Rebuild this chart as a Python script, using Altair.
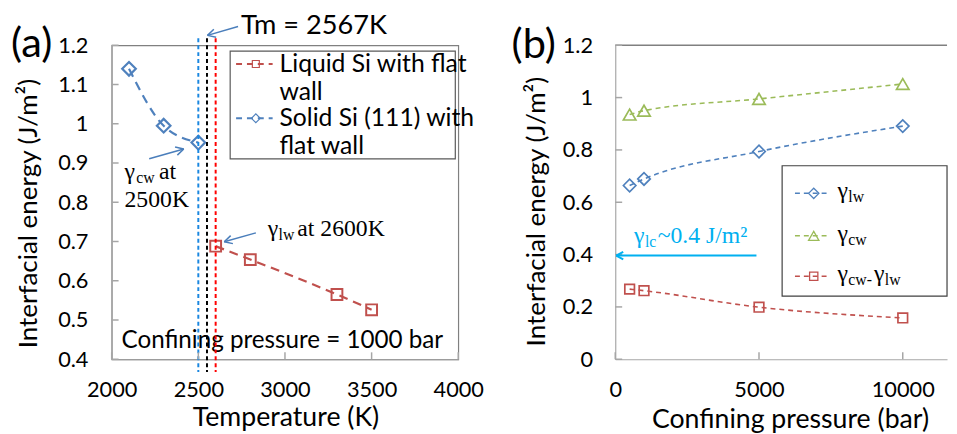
import math
import altair as alt
import pandas as pd

# ---------------- data ----------------
temp_solid = [2100, 2300, 2500]
gamma_solid = [1.140, 0.995, 0.952]
temp_liquid = [2600, 2800, 3300, 3500]
gamma_liquid = [0.688, 0.654, 0.565, 0.526]
vline_temps = [2500, 2550, 2600]

pressure = [500, 1000, 5000, 10000]
gamma_lw = [0.664, 0.689, 0.794, 0.891]
gamma_cw = [0.935, 0.950, 0.995, 1.052]
gamma_diff = [0.268, 0.262, 0.199, 0.158]

xticks_a = [2000, 2500, 3000, 3500, 4000]
yticks_a = [0.4, 0.5, 0.6, 0.7, 0.8, 0.9, 1.0, 1.1, 1.2]
xticks_b = [0, 5000, 10000]
yticks_b = [0, 0.2, 0.4, 0.6, 0.8, 1.0, 1.2]

# ---------------- style ----------------
SANS = "Lato"
SERIF = "Liberation Serif"
BLUE = "#4f81bd"
RED = "#c0504d"
GREEN = "#9bbb59"
CYAN = "#00b0f0"
ARROW = "#4a7ebb"
FRAME_DARK = "#808080"
FRAME_LIGHT = "#a6a6a6"

A_W, A_H = 351, 318
B_W, B_H = 336, 318

LBL = 22
XT = 27
YT = 26.3

dummy = pd.DataFrame({"d": [0]})


def txt(s, x, y, size, font=SANS, color="black", baseline="middle", align="left"):
    return alt.Chart(dummy).mark_text(
        text=s, fontSize=size, font=font, color=color, baseline=baseline, align=align
    ).encode(x=alt.value(x), y=alt.value(y))


def seg(x1, y1, x2, y2, color, w=1.5, dash=None):
    kw = dict(color=color, strokeWidth=w)
    if dash:
        kw["strokeDash"] = dash
    return alt.Chart(dummy).mark_rule(**kw).encode(
        x=alt.value(x1), y=alt.value(y1), x2=alt.value(x2), y2=alt.value(y2)
    )


def arrow(x1, y1, x2, y2, color, w=1.5, head=9, ang=28):
    th = math.atan2(y2 - y1, x2 - x1)
    out = [seg(x1, y1, x2, y2, color, w)]
    for s in (-1, 1):
        a = th + math.pi - s * math.radians(ang)
        out.append(seg(x2, y2, x2 + head * math.cos(a), y2 + head * math.sin(a), color, w))
    return out


def pt(x, y, shape, color, size, w=1.5):
    return alt.Chart(dummy).mark_point(
        shape=shape, filled=False, color=color, size=size, strokeWidth=w, opacity=1
    ).encode(x=alt.value(x), y=alt.value(y))


def sub_text(parts, x, y, color="black", main=24, small=16, drop=4):
    """parts: list of (text, is_sub, dx)"""
    out = []
    for s, is_sub, dx in parts:
        out.append(txt(s, x + dx, y + (drop if is_sub else 0), small if is_sub else main,
                       font=SERIF, color=color, baseline="alphabetic"))
    return out


def axis(values, title, lpad, tx, ty, angle=None, fmt=None, expr=None):
    kw = dict(values=values, title=title, ticks=False, grid=False, domainColor=FRAME_LIGHT,
              domainWidth=1.2, labelPadding=lpad, labelFont=SANS, labelFontSize=LBL,
              labelColor="black", labelFlush=False, labelOverlap=False,
              titleFont=SANS, titleFontWeight="normal", titleColor="black",
              titleX=tx, titleY=ty, titleAlign="center", titleBaseline="middle")
    if angle is not None:
        kw["titleAngle"] = angle
        kw["titleFontSize"] = YT
    else:
        kw["titleFontSize"] = XT
    if fmt:
        kw["format"] = fmt
    if expr:
        kw["labelExpr"] = expr
    return alt.Axis(**kw)


# ---------------- panel (a) ----------------
xs_a = alt.Scale(domain=[2000, 4000], nice=False, zero=False)
ys_a = alt.Scale(domain=[0.4, 1.2], nice=False, zero=False)

ax_xa = axis(xticks_a, "Temperature (K)", 21, 176, 59, fmt="d")
ax_ya = axis(yticks_a, "Interfacial energy (J/m²)", 24, -84, 170, angle=270,
             expr="format(datum.value, '~g')")

XA = alt.X("x:Q", scale=xs_a, axis=ax_xa)
YA = alt.Y("y:Q", scale=ys_a, axis=ax_ya)

df_solid = pd.DataFrame({"x": temp_solid, "y": gamma_solid})
df_liquid = pd.DataFrame({"x": temp_liquid, "y": gamma_liquid})

layers_a = [txt("Confining pressure = 1000 bar", 10, 300, 24.5)]

layers_a.append(alt.Chart(df_solid).mark_line(color=BLUE, strokeDash=[9, 6], strokeWidth=2.2,
                                               interpolate="monotone").encode(x=XA, y=YA))
layers_a.append(alt.Chart(df_solid).mark_point(shape="diamond", filled=False, color=BLUE, size=190,
                                                strokeWidth=2.2, opacity=1).encode(x=XA, y=YA))
layers_a.append(alt.Chart(df_liquid).mark_line(color=RED, strokeDash=[9, 6], strokeWidth=2.2,
                                                interpolate="monotone").encode(x=XA, y=YA))
layers_a.append(alt.Chart(df_liquid).mark_point(shape="square", filled=False, color=RED, size=120,
                                                 strokeWidth=2, opacity=1).encode(x=XA, y=YA))

vcolors = ["#1a87e0", "#000000", "#ff0000"]
for t, c in zip(vline_temps, vcolors):
    layers_a.append(alt.Chart(pd.DataFrame({"x": [t]})).mark_rule(
        color=c, strokeWidth=2, strokeDash=[4, 3]).encode(x=XA, y=alt.value(-7), y2=alt.value(331)))

# inward ticks
layers_a.append(alt.Chart(pd.DataFrame({"y": yticks_a})).mark_rule(color=FRAME_LIGHT, strokeWidth=1.5)
                .encode(y=YA, x=alt.value(0), x2=alt.value(7)))
layers_a.append(alt.Chart(pd.DataFrame({"x": xticks_a})).mark_rule(color=FRAME_LIGHT, strokeWidth=1.5)
                .encode(x=XA, y=alt.value(A_H), y2=alt.value(A_H - 7)))

# legend (a)
layers_a.append(alt.Chart(dummy).mark_rect(fill="white", stroke="#595959", strokeWidth=1.2)
                .encode(x=alt.value(120), x2=alt.value(348), y=alt.value(6), y2=alt.value(115)))
layers_a.append(seg(126, 19, 163, 19, RED, 2, [6, 5]))
layers_a.append(pt(146, 19, "square", RED, 50, 1.2))
layers_a.append(seg(126, 74, 163, 74, BLUE, 2, [6, 5]))
layers_a.append(pt(146, 74, "diamond", BLUE, 80, 1.2))
for s, yy in [("Liquid Si with flat", 19), ("wall", 47), ("Solid Si (111) with", 74), ("flat wall", 102)]:
    layers_a.append(txt(s, 170, yy, 25))

# annotations (a)
layers_a.append(txt("Tm = 2567K", 131, -19, 27.5))
layers_a += arrow(128, -19, 97, -10, ARROW)
layers_a += sub_text([("γ", False, 0), ("cw", True, 12), ("at", False, 35)], 13, 135)
layers_a.append(txt("2500K", 13, 164, 24, font=SERIF, baseline="alphabetic"))
layers_a += arrow(38, 115, 73, 105, ARROW)
layers_a += sub_text([("γ", False, 0), ("lw", True, 11), ("at 2600K", False, 30)], 158, 193)
layers_a += arrow(146, 190, 114, 199, ARROW)
layers_a.append(txt("(a)", -102, -1, 42))

panel_a = alt.layer(*layers_a).properties(
    width=A_W, height=A_H, view=alt.ViewBackground(stroke=FRAME_DARK, strokeWidth=1.2))

# ---------------- panel (b) ----------------
xs_b = alt.Scale(domain=[0, 11540], nice=False, zero=False)
ys_b = alt.Scale(domain=[0, 1.2], nice=False, zero=False)

ax_xb = axis(xticks_b, "Confining pressure (bar)", 21, 177, 61, fmt="d")
ax_yb = axis(yticks_b, "Interfacial energy (J/m²)", 23, -80, 168, angle=270,
             expr="format(datum.value, '~g')")

XB = alt.X("x:Q", scale=xs_b, axis=ax_xb)
YB = alt.Y("y:Q", scale=ys_b, axis=ax_yb)

layers_b = []
layers_b.append(seg(0, 0, B_W, 0, FRAME_DARK, 1.5))
series_b = [(gamma_cw, GREEN, "triangle-up", 160),
            (gamma_lw, BLUE, "diamond", 160),
            (gamma_diff, RED, "square", 95)]
for vals, col, shp, sz in series_b:
    d = pd.DataFrame({"x": pressure, "y": vals})
    layers_b.append(alt.Chart(d).mark_line(color=col, strokeDash=[5, 4], strokeWidth=1.6,
                                           interpolate="monotone").encode(x=XB, y=YB))
    layers_b.append(alt.Chart(d).mark_point(shape=shp, filled=False, color=col, size=sz,
                                            strokeWidth=1.7, opacity=1).encode(x=XB, y=YB))

layers_b.append(alt.Chart(pd.DataFrame({"y": yticks_b})).mark_rule(color=FRAME_LIGHT, strokeWidth=1.5)
                .encode(y=YB, x=alt.value(0), x2=alt.value(7)))
layers_b.append(alt.Chart(pd.DataFrame({"x": xticks_b})).mark_rule(color=FRAME_LIGHT, strokeWidth=1.5)
                .encode(x=XB, y=alt.value(B_H), y2=alt.value(B_H - 7)))

# legend (b)
layers_b.append(alt.Chart(dummy).mark_rect(fill="white", stroke="#404040", strokeWidth=1.2)
                .encode(x=alt.value(169), x2=alt.value(336), y=alt.value(122), y2=alt.value(254)))
leg_b = [(150, BLUE, "diamond", 110, [("γ", False, 0), ("lw", True, 11)]),
         (193, GREEN, "triangle-up", 110, [("γ", False, 0), ("cw", True, 11)]),
         (234, RED, "square", 70, [("γ", False, 0), ("cw-", True, 11), ("γ", False, 37), ("lw", True, 48)])]
for yy, col, shp, sz, parts in leg_b:
    layers_b.append(seg(182, yy, 214, yy, col, 1.5, [5, 4]))
    layers_b.append(pt(201, yy, shp, col, sz, 1.3))
    layers_b += sub_text(parts, 225, yy + 5)

# cyan annotation
layers_b += sub_text([("γ", False, 0), ("lc", True, 11), ("~0.4 J/m²", False, 24)], 19, 200, color=CYAN)
layers_b += arrow(143, 213, 1, 213, CYAN, w=2, head=8)
layers_b.append(txt("(b)", -105, 0, 42))

panel_b = alt.layer(*layers_b).properties(
    width=B_W, height=B_H, view=alt.ViewBackground(stroke="transparent"))

chart = alt.hconcat(panel_a, panel_b, spacing=159, bounds="flush").properties(
    padding={"left": 2, "top": 1, "right": 0, "bottom": 0}
).configure(background="white")

chart.save("out.html", embed_options={"renderer": "svg", "actions": False})
